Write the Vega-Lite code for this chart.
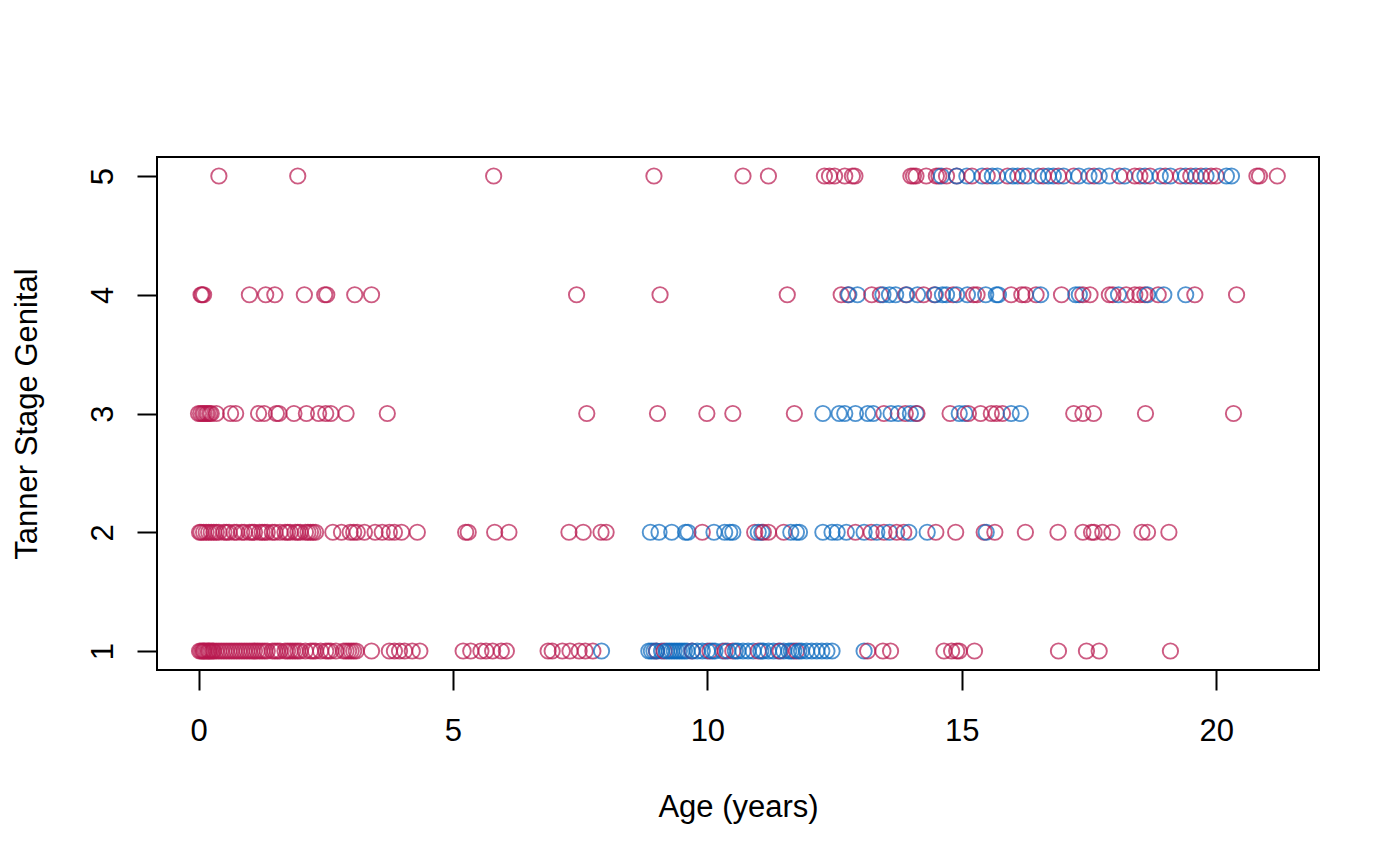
{
"$schema": "https://vega.github.io/schema/vega-lite/v6.json",
"width": 1162, "height": 513,
"autosize": {"type": "none"},
"padding": {"left": 157, "top": 157, "right": 81, "bottom": 196},
"background": "white",
"config": {"view": {"stroke": "black", "strokeWidth": 2}, "font": "Liberation Sans"},
"data": {"values": [
{"age":0.02,"stage":1,"group":"a"},{"age":0.05,"stage":1,"group":"a"},{"age":0.08,"stage":1,"group":"a"},{"age":0.1,"stage":1,"group":"a"},{"age":0.12,"stage":1,"group":"a"},{"age":0.15,"stage":1,"group":"a"},{"age":0.18,"stage":1,"group":"a"},{"age":0.2,"stage":1,"group":"a"},{"age":0.22,"stage":1,"group":"a"},{"age":0.25,"stage":1,"group":"a"},{"age":0.28,"stage":1,"group":"a"},{"age":0.3,"stage":1,"group":"a"},{"age":0.35,"stage":1,"group":"a"},{"age":0.4,"stage":1,"group":"a"},{"age":0.45,"stage":1,"group":"a"},{"age":0.5,"stage":1,"group":"a"},{"age":0.55,"stage":1,"group":"a"},{"age":0.6,"stage":1,"group":"a"},{"age":0.65,"stage":1,"group":"a"},{"age":0.7,"stage":1,"group":"a"},{"age":0.75,"stage":1,"group":"a"},{"age":0.8,"stage":1,"group":"a"},{"age":0.85,"stage":1,"group":"a"},{"age":0.9,"stage":1,"group":"a"},{"age":0.95,"stage":1,"group":"a"},{"age":1.0,"stage":1,"group":"a"},{"age":1.05,"stage":1,"group":"a"},{"age":1.1,"stage":1,"group":"a"},{"age":1.15,"stage":1,"group":"a"},{"age":1.2,"stage":1,"group":"a"},{"age":1.25,"stage":1,"group":"a"},{"age":1.3,"stage":1,"group":"a"},{"age":1.35,"stage":1,"group":"a"},{"age":1.45,"stage":1,"group":"a"},{"age":1.5,"stage":1,"group":"a"},{"age":1.55,"stage":1,"group":"a"},{"age":1.6,"stage":1,"group":"a"},{"age":1.7,"stage":1,"group":"a"},{"age":1.75,"stage":1,"group":"a"},{"age":1.8,"stage":1,"group":"a"},{"age":1.85,"stage":1,"group":"a"},{"age":1.9,"stage":1,"group":"a"},{"age":1.95,"stage":1,"group":"a"},{"age":2.0,"stage":1,"group":"a"},{"age":2.1,"stage":1,"group":"a"},{"age":2.2,"stage":1,"group":"a"},{"age":2.25,"stage":1,"group":"a"},{"age":2.3,"stage":1,"group":"a"},{"age":2.4,"stage":1,"group":"a"},{"age":2.5,"stage":1,"group":"a"},{"age":2.55,"stage":1,"group":"a"},{"age":2.6,"stage":1,"group":"a"},{"age":2.7,"stage":1,"group":"a"},{"age":2.85,"stage":1,"group":"a"},{"age":2.9,"stage":1,"group":"a"},{"age":2.95,"stage":1,"group":"a"},{"age":3.0,"stage":1,"group":"a"},{"age":3.05,"stage":1,"group":"a"},{"age":3.1,"stage":1,"group":"a"},{"age":3.4,"stage":1,"group":"a"},{"age":3.75,"stage":1,"group":"a"},{"age":3.85,"stage":1,"group":"a"},{"age":3.95,"stage":1,"group":"a"},{"age":4.05,"stage":1,"group":"a"},{"age":4.2,"stage":1,"group":"a"},{"age":4.35,"stage":1,"group":"a"},{"age":5.2,"stage":1,"group":"a"},{"age":5.35,"stage":1,"group":"a"},{"age":5.55,"stage":1,"group":"a"},{"age":5.65,"stage":1,"group":"a"},{"age":5.78,"stage":1,"group":"a"},{"age":5.95,"stage":1,"group":"a"},{"age":6.05,"stage":1,"group":"a"},{"age":6.87,"stage":1,"group":"a"},{"age":6.95,"stage":1,"group":"a"},{"age":7.15,"stage":1,"group":"a"},{"age":7.3,"stage":1,"group":"a"},{"age":7.48,"stage":1,"group":"a"},{"age":7.6,"stage":1,"group":"a"},{"age":7.75,"stage":1,"group":"a"},
{"age":7.92,"stage":1,"group":"b"},{"age":8.85,"stage":1,"group":"b"},{"age":8.9,"stage":1,"group":"b"},{"age":8.95,"stage":1,"group":"b"},{"age":9.0,"stage":1,"group":"a"},{"age":9.0,"stage":1,"group":"b"},{"age":9.1,"stage":1,"group":"b"},{"age":9.15,"stage":1,"group":"a"},{"age":9.2,"stage":1,"group":"b"},{"age":9.25,"stage":1,"group":"b"},{"age":9.3,"stage":1,"group":"b"},{"age":9.35,"stage":1,"group":"b"},{"age":9.4,"stage":1,"group":"b"},{"age":9.45,"stage":1,"group":"b"},{"age":9.5,"stage":1,"group":"b"},{"age":9.55,"stage":1,"group":"b"},{"age":9.6,"stage":1,"group":"b"},{"age":9.7,"stage":1,"group":"a"},{"age":9.7,"stage":1,"group":"b"},{"age":9.8,"stage":1,"group":"b"},{"age":9.9,"stage":1,"group":"b"},{"age":10.0,"stage":1,"group":"b"},{"age":10.05,"stage":1,"group":"a"},{"age":10.1,"stage":1,"group":"b"},{"age":10.15,"stage":1,"group":"b"},{"age":10.3,"stage":1,"group":"b"},{"age":10.35,"stage":1,"group":"a"},{"age":10.4,"stage":1,"group":"b"},{"age":10.5,"stage":1,"group":"a"},{"age":10.55,"stage":1,"group":"b"},{"age":10.6,"stage":1,"group":"b"},{"age":10.7,"stage":1,"group":"b"},{"age":10.8,"stage":1,"group":"b"},{"age":10.9,"stage":1,"group":"b"},{"age":11.0,"stage":1,"group":"a"},{"age":11.05,"stage":1,"group":"b"},{"age":11.1,"stage":1,"group":"b"},{"age":11.2,"stage":1,"group":"b"},{"age":11.3,"stage":1,"group":"b"},{"age":11.4,"stage":1,"group":"b"},{"age":11.43,"stage":1,"group":"a"},{"age":11.5,"stage":1,"group":"b"},{"age":11.6,"stage":1,"group":"b"},{"age":11.65,"stage":1,"group":"b"},{"age":11.7,"stage":1,"group":"b"},{"age":11.75,"stage":1,"group":"a"},{"age":11.8,"stage":1,"group":"b"},{"age":11.85,"stage":1,"group":"b"},{"age":11.95,"stage":1,"group":"b"},{"age":12.05,"stage":1,"group":"b"},{"age":12.15,"stage":1,"group":"b"},{"age":12.25,"stage":1,"group":"b"},{"age":12.35,"stage":1,"group":"b"},{"age":12.45,"stage":1,"group":"b"},{"age":13.08,"stage":1,"group":"b"},{"age":13.15,"stage":1,"group":"a"},{"age":13.45,"stage":1,"group":"a"},{"age":13.6,"stage":1,"group":"a"},{"age":14.65,"stage":1,"group":"a"},{"age":14.8,"stage":1,"group":"a"},{"age":14.9,"stage":1,"group":"a"},{"age":14.95,"stage":1,"group":"a"},{"age":15.25,"stage":1,"group":"a"},{"age":16.9,"stage":1,"group":"a"},{"age":17.45,"stage":1,"group":"a"},{"age":17.7,"stage":1,"group":"a"},{"age":19.1,"stage":1,"group":"a"},
{"age":0.02,"stage":2,"group":"a"},{"age":0.05,"stage":2,"group":"a"},{"age":0.1,"stage":2,"group":"a"},{"age":0.15,"stage":2,"group":"a"},{"age":0.2,"stage":2,"group":"a"},{"age":0.25,"stage":2,"group":"a"},{"age":0.3,"stage":2,"group":"a"},{"age":0.35,"stage":2,"group":"a"},{"age":0.4,"stage":2,"group":"a"},{"age":0.5,"stage":2,"group":"a"},{"age":0.55,"stage":2,"group":"a"},{"age":0.6,"stage":2,"group":"a"},{"age":0.7,"stage":2,"group":"a"},{"age":0.75,"stage":2,"group":"a"},{"age":0.85,"stage":2,"group":"a"},{"age":0.9,"stage":2,"group":"a"},{"age":1.0,"stage":2,"group":"a"},{"age":1.05,"stage":2,"group":"a"},{"age":1.1,"stage":2,"group":"a"},{"age":1.2,"stage":2,"group":"a"},{"age":1.25,"stage":2,"group":"a"},{"age":1.3,"stage":2,"group":"a"},{"age":1.35,"stage":2,"group":"a"},{"age":1.45,"stage":2,"group":"a"},{"age":1.5,"stage":2,"group":"a"},{"age":1.6,"stage":2,"group":"a"},{"age":1.7,"stage":2,"group":"a"},{"age":1.75,"stage":2,"group":"a"},{"age":1.8,"stage":2,"group":"a"},{"age":1.9,"stage":2,"group":"a"},{"age":1.95,"stage":2,"group":"a"},{"age":2.0,"stage":2,"group":"a"},{"age":2.1,"stage":2,"group":"a"},{"age":2.15,"stage":2,"group":"a"},{"age":2.2,"stage":2,"group":"a"},{"age":2.25,"stage":2,"group":"a"},{"age":2.3,"stage":2,"group":"a"},{"age":2.64,"stage":2,"group":"a"},{"age":2.81,"stage":2,"group":"a"},{"age":2.98,"stage":2,"group":"a"},{"age":3.05,"stage":2,"group":"a"},{"age":3.12,"stage":2,"group":"a"},{"age":3.26,"stage":2,"group":"a"},{"age":3.47,"stage":2,"group":"a"},{"age":3.61,"stage":2,"group":"a"},{"age":3.75,"stage":2,"group":"a"},{"age":3.85,"stage":2,"group":"a"},{"age":3.99,"stage":2,"group":"a"},{"age":4.3,"stage":2,"group":"a"},{"age":5.25,"stage":2,"group":"a"},{"age":5.3,"stage":2,"group":"a"},{"age":5.82,"stage":2,"group":"a"},{"age":6.1,"stage":2,"group":"a"},{"age":7.28,"stage":2,"group":"a"},{"age":7.56,"stage":2,"group":"a"},{"age":7.91,"stage":2,"group":"a"},{"age":8.01,"stage":2,"group":"a"},
{"age":8.88,"stage":2,"group":"b"},{"age":9.05,"stage":2,"group":"b"},{"age":9.3,"stage":2,"group":"b"},{"age":9.57,"stage":2,"group":"b"},{"age":9.62,"stage":2,"group":"b"},{"age":9.9,"stage":2,"group":"a"},{"age":10.13,"stage":2,"group":"b"},{"age":10.34,"stage":2,"group":"b"},{"age":10.44,"stage":2,"group":"b"},{"age":10.5,"stage":2,"group":"b"},{"age":10.93,"stage":2,"group":"a"},{"age":11.0,"stage":2,"group":"b"},{"age":11.07,"stage":2,"group":"b"},{"age":11.1,"stage":2,"group":"a"},{"age":11.2,"stage":2,"group":"a"},{"age":11.5,"stage":2,"group":"a"},{"age":11.64,"stage":2,"group":"b"},{"age":11.75,"stage":2,"group":"b"},{"age":11.81,"stage":2,"group":"b"},{"age":12.27,"stage":2,"group":"b"},{"age":12.45,"stage":2,"group":"b"},{"age":12.55,"stage":2,"group":"b"},{"age":12.73,"stage":2,"group":"b"},{"age":12.91,"stage":2,"group":"a"},{"age":13.08,"stage":2,"group":"b"},{"age":13.22,"stage":2,"group":"a"},{"age":13.33,"stage":2,"group":"b"},{"age":13.47,"stage":2,"group":"a"},{"age":13.58,"stage":2,"group":"b"},{"age":13.72,"stage":2,"group":"a"},{"age":13.86,"stage":2,"group":"a"},{"age":13.96,"stage":2,"group":"b"},{"age":14.32,"stage":2,"group":"b"},{"age":14.49,"stage":2,"group":"a"},{"age":14.88,"stage":2,"group":"a"},{"age":15.44,"stage":2,"group":"a"},{"age":15.48,"stage":2,"group":"b"},{"age":15.65,"stage":2,"group":"a"},{"age":16.25,"stage":2,"group":"a"},{"age":16.89,"stage":2,"group":"a"},{"age":17.38,"stage":2,"group":"a"},{"age":17.55,"stage":2,"group":"a"},{"age":17.6,"stage":2,"group":"a"},{"age":17.77,"stage":2,"group":"a"},{"age":17.95,"stage":2,"group":"a"},{"age":18.54,"stage":2,"group":"a"},{"age":18.65,"stage":2,"group":"a"},{"age":19.07,"stage":2,"group":"a"},
{"age":0.0,"stage":3,"group":"a"},{"age":0.04,"stage":3,"group":"a"},{"age":0.08,"stage":3,"group":"a"},{"age":0.11,"stage":3,"group":"a"},{"age":0.15,"stage":3,"group":"a"},{"age":0.18,"stage":3,"group":"a"},{"age":0.22,"stage":3,"group":"a"},{"age":0.25,"stage":3,"group":"a"},{"age":0.35,"stage":3,"group":"a"},{"age":0.63,"stage":3,"group":"a"},{"age":0.73,"stage":3,"group":"a"},{"age":1.18,"stage":3,"group":"a"},{"age":1.29,"stage":3,"group":"a"},{"age":1.53,"stage":3,"group":"a"},{"age":1.58,"stage":3,"group":"a"},{"age":1.875,"stage":3,"group":"a"},{"age":2.12,"stage":3,"group":"a"},{"age":2.36,"stage":3,"group":"a"},{"age":2.5,"stage":3,"group":"a"},{"age":2.6,"stage":3,"group":"a"},{"age":2.9,"stage":3,"group":"a"},{"age":3.71,"stage":3,"group":"a"},{"age":7.63,"stage":3,"group":"a"},{"age":9.02,"stage":3,"group":"a"},{"age":9.99,"stage":3,"group":"a"},{"age":10.5,"stage":3,"group":"a"},{"age":11.71,"stage":3,"group":"a"},
{"age":12.27,"stage":3,"group":"b"},{"age":12.59,"stage":3,"group":"b"},{"age":12.7,"stage":3,"group":"b"},{"age":12.91,"stage":3,"group":"b"},{"age":13.15,"stage":3,"group":"b"},{"age":13.26,"stage":3,"group":"b"},{"age":13.47,"stage":3,"group":"a"},{"age":13.61,"stage":3,"group":"b"},{"age":13.75,"stage":3,"group":"b"},{"age":13.89,"stage":3,"group":"a"},{"age":13.99,"stage":3,"group":"b"},{"age":14.1,"stage":3,"group":"b"},{"age":14.12,"stage":3,"group":"a"},{"age":14.77,"stage":3,"group":"a"},{"age":14.95,"stage":3,"group":"b"},{"age":15.06,"stage":3,"group":"b"},{"age":15.13,"stage":3,"group":"a"},{"age":15.37,"stage":3,"group":"a"},{"age":15.58,"stage":3,"group":"a"},{"age":15.68,"stage":3,"group":"a"},{"age":15.8,"stage":3,"group":"a"},{"age":15.97,"stage":3,"group":"b"},{"age":16.15,"stage":3,"group":"b"},{"age":17.2,"stage":3,"group":"a"},{"age":17.38,"stage":3,"group":"a"},{"age":17.59,"stage":3,"group":"a"},{"age":18.61,"stage":3,"group":"a"},{"age":20.34,"stage":3,"group":"a"},
{"age":0.05,"stage":4,"group":"a"},{"age":0.07,"stage":4,"group":"a"},{"age":0.1,"stage":4,"group":"a"},{"age":1.0,"stage":4,"group":"a"},{"age":1.32,"stage":4,"group":"a"},{"age":1.5,"stage":4,"group":"a"},{"age":2.08,"stage":4,"group":"a"},{"age":2.48,"stage":4,"group":"a"},{"age":2.52,"stage":4,"group":"a"},{"age":3.07,"stage":4,"group":"a"},{"age":3.4,"stage":4,"group":"a"},{"age":7.43,"stage":4,"group":"a"},{"age":9.07,"stage":4,"group":"a"},{"age":11.57,"stage":4,"group":"a"},
{"age":12.63,"stage":4,"group":"a"},{"age":12.76,"stage":4,"group":"a"},{"age":12.78,"stage":4,"group":"b"},{"age":12.95,"stage":4,"group":"b"},{"age":13.23,"stage":4,"group":"a"},{"age":13.4,"stage":4,"group":"a"},{"age":13.45,"stage":4,"group":"b"},{"age":13.58,"stage":4,"group":"b"},{"age":13.7,"stage":4,"group":"b"},{"age":13.9,"stage":4,"group":"a"},{"age":13.92,"stage":4,"group":"b"},{"age":14.13,"stage":4,"group":"b"},{"age":14.25,"stage":4,"group":"a"},{"age":14.46,"stage":4,"group":"a"},{"age":14.48,"stage":4,"group":"b"},{"age":14.62,"stage":4,"group":"b"},{"age":14.7,"stage":4,"group":"b"},{"age":14.83,"stage":4,"group":"a"},{"age":14.9,"stage":4,"group":"b"},{"age":15.11,"stage":4,"group":"b"},{"age":15.23,"stage":4,"group":"a"},{"age":15.3,"stage":4,"group":"a"},{"age":15.47,"stage":4,"group":"b"},{"age":15.68,"stage":4,"group":"b"},{"age":15.72,"stage":4,"group":"b"},{"age":15.97,"stage":4,"group":"a"},{"age":16.18,"stage":4,"group":"a"},{"age":16.25,"stage":4,"group":"a"},{"age":16.46,"stage":4,"group":"a"},{"age":16.55,"stage":4,"group":"b"},{"age":16.96,"stage":4,"group":"a"},{"age":17.24,"stage":4,"group":"b"},{"age":17.31,"stage":4,"group":"b"},{"age":17.38,"stage":4,"group":"a"},{"age":17.52,"stage":4,"group":"a"},{"age":17.9,"stage":4,"group":"a"},{"age":17.97,"stage":4,"group":"a"},{"age":18.08,"stage":4,"group":"b"},{"age":18.23,"stage":4,"group":"a"},{"age":18.4,"stage":4,"group":"a"},{"age":18.5,"stage":4,"group":"a"},{"age":18.6,"stage":4,"group":"a"},{"age":18.65,"stage":4,"group":"b"},{"age":18.86,"stage":4,"group":"a"},{"age":18.97,"stage":4,"group":"b"},{"age":19.4,"stage":4,"group":"b"},{"age":19.58,"stage":4,"group":"a"},{"age":20.4,"stage":4,"group":"a"},
{"age":0.4,"stage":5,"group":"a"},{"age":1.95,"stage":5,"group":"a"},{"age":5.8,"stage":5,"group":"a"},{"age":8.95,"stage":5,"group":"a"},{"age":10.7,"stage":5,"group":"a"},{"age":11.2,"stage":5,"group":"a"},{"age":12.3,"stage":5,"group":"a"},{"age":12.4,"stage":5,"group":"a"},{"age":12.5,"stage":5,"group":"a"},{"age":12.7,"stage":5,"group":"a"},{"age":12.85,"stage":5,"group":"a"},{"age":12.9,"stage":5,"group":"a"},{"age":14.0,"stage":5,"group":"a"},{"age":14.05,"stage":5,"group":"a"},{"age":14.1,"stage":5,"group":"a"},{"age":14.3,"stage":5,"group":"a"},{"age":14.5,"stage":5,"group":"a"},{"age":14.55,"stage":5,"group":"a"},{"age":14.6,"stage":5,"group":"b"},{"age":14.7,"stage":5,"group":"a"},{"age":14.9,"stage":5,"group":"a"},{"age":14.9,"stage":5,"group":"b"},{"age":15.1,"stage":5,"group":"b"},{"age":15.2,"stage":5,"group":"a"},{"age":15.4,"stage":5,"group":"b"},{"age":15.5,"stage":5,"group":"a"},{"age":15.6,"stage":5,"group":"b"},{"age":15.7,"stage":5,"group":"b"},{"age":15.9,"stage":5,"group":"a"},{"age":16.0,"stage":5,"group":"b"},{"age":16.1,"stage":5,"group":"b"},{"age":16.2,"stage":5,"group":"a"},{"age":16.3,"stage":5,"group":"b"},{"age":16.5,"stage":5,"group":"b"},{"age":16.6,"stage":5,"group":"a"},{"age":16.7,"stage":5,"group":"b"},{"age":16.8,"stage":5,"group":"b"},{"age":16.9,"stage":5,"group":"a"},{"age":17.0,"stage":5,"group":"b"},{"age":17.2,"stage":5,"group":"a"},{"age":17.3,"stage":5,"group":"b"},{"age":17.5,"stage":5,"group":"b"},{"age":17.6,"stage":5,"group":"a"},{"age":17.7,"stage":5,"group":"b"},{"age":17.9,"stage":5,"group":"b"},{"age":18.1,"stage":5,"group":"a"},{"age":18.2,"stage":5,"group":"b"},{"age":18.4,"stage":5,"group":"a"},{"age":18.5,"stage":5,"group":"a"},{"age":18.6,"stage":5,"group":"b"},{"age":18.7,"stage":5,"group":"a"},{"age":18.9,"stage":5,"group":"b"},{"age":19.0,"stage":5,"group":"a"},{"age":19.1,"stage":5,"group":"b"},{"age":19.3,"stage":5,"group":"a"},{"age":19.4,"stage":5,"group":"b"},{"age":19.5,"stage":5,"group":"a"},{"age":19.6,"stage":5,"group":"b"},{"age":19.7,"stage":5,"group":"a"},{"age":19.8,"stage":5,"group":"b"},{"age":19.9,"stage":5,"group":"a"},{"age":20.0,"stage":5,"group":"a"},{"age":20.2,"stage":5,"group":"b"},{"age":20.3,"stage":5,"group":"b"},{"age":20.8,"stage":5,"group":"a"},{"age":20.85,"stage":5,"group":"a"},{"age":21.2,"stage":5,"group":"a"}
]},
"mark": {"type": "point", "shape": "circle", "filled": false, "size": 235, "strokeWidth": 1.9, "opacity": 0.7},
"encoding": {
"x": {"field": "age", "type": "quantitative",
 "scale": {"domain": [-0.816, 22.02], "nice": false, "zero": false},
 "axis": {"values": [0, 5, 10, 15, 20], "title": "Age (years)", "grid": false, "domain": false,
  "tickSize": 20, "tickWidth": 2, "tickColor": "black",
  "labelFont": "Liberation Sans", "labelFontSize": 31, "labelColor": "black", "labelBaseline": "alphabetic", "labelPadding": 50, "labelFlush": false, "labelOverlap": false,
  "titleFont": "Liberation Sans", "titleFontSize": 31, "titleFontWeight": "normal", "titleColor": "black", "titleBaseline": "alphabetic", "titleAlign": "center", "titleX": 581, "titleY": 146}},
"y": {"field": "stage", "type": "quantitative",
 "scale": {"domain": [0.84, 5.16], "nice": false, "zero": false},
 "axis": {"values": [1, 2, 3, 4, 5], "title": "Tanner Stage Genital", "grid": false, "domain": false,
  "tickSize": 20, "tickWidth": 2, "tickColor": "black",
  "labelFont": "Liberation Sans", "labelFontSize": 31, "labelColor": "black", "labelAngle": -90, "labelAlign": "center", "labelBaseline": "alphabetic", "labelPadding": 25, "labelFlush": false, "labelOverlap": false,
  "titleFont": "Liberation Sans", "titleFontSize": 31, "titleFontWeight": "normal", "titleColor": "black", "titleAngle": -90, "titleBaseline": "alphabetic", "titleAlign": "center", "titleX": -121, "titleY": 256.5}},
"color": {"field": "group", "type": "nominal", "scale": {"domain": ["a", "b"], "range": ["#B8174E", "#0868BE"]}, "legend": null}
}
}
